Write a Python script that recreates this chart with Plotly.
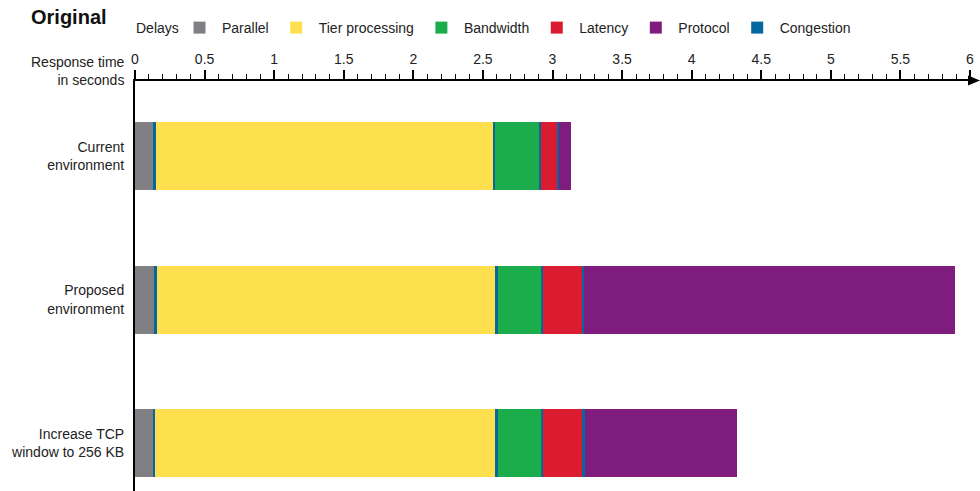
import plotly.graph_objects as go

categories = ["Current<br>environment", "Proposed<br>environment", "Increase TCP<br>window to 256 KB"]

parallel = [0.13, 0.14, 0.13]
congestion_1 = [0.02, 0.015, 0.015]
tier_processing = [2.42, 2.43, 2.44]
congestion_2 = [0.02, 0.02, 0.02]
bandwidth = [0.31, 0.31, 0.31]
congestion_3 = [0.015, 0.015, 0.02]
latency = [0.115, 0.28, 0.28]
congestion_4 = [0.02, 0.015, 0.02]
protocol = [0.08, 2.67, 1.09]

x_ticks = [0, 0.5, 1, 1.5, 2, 2.5, 3, 3.5, 4, 4.5, 5, 5.5, 6]

COL = {
    "Parallel": "#808084",
    "Tier processing": "#FEE04F",
    "Bandwidth": "#1BAC4B",
    "Latency": "#DB1B2F",
    "Protocol": "#7F1D7E",
    "Congestion": "#0567A0",
}

FONT = "Liberation Sans, Arial, sans-serif"

segments = [
    ("Parallel", parallel, 1, True),
    ("Congestion", congestion_1, 6, True),
    ("Tier processing", tier_processing, 2, True),
    ("Congestion", congestion_2, 6, False),
    ("Bandwidth", bandwidth, 3, True),
    ("Congestion", congestion_3, 6, False),
    ("Latency", latency, 4, True),
    ("Congestion", congestion_4, 6, False),
    ("Protocol", protocol, 5, True),
]

fig = go.Figure()
for name, vals, rank, show in segments:
    fig.add_trace(go.Bar(
        y=categories, x=vals, orientation="h", name=name,
        marker=dict(color=COL[name], line=dict(width=0)),
        legendgroup=name, legendrank=rank, showlegend=show,
        hoverinfo="x+name",
    ))

W, H = 980, 491
L, R, T, B = 135, 10, 81, 0
pw, ph = W - L - R, H - T - B

def px(x):
    return (x - L) / pw

def py(y):
    return (H - B - y) / ph

fig.update_layout(
    width=W, height=H,
    margin=dict(l=L, r=R, t=T, b=B),
    barmode="stack",
    bargap=0.526,
    plot_bgcolor="white", paper_bgcolor="white",
    font=dict(family=FONT, size=14, color="#222222"),
    legend=dict(
        orientation="h", x=px(177), xanchor="left", y=py(12), yanchor="top",
        font=dict(size=14), traceorder="normal", itemwidth=35,
        itemclick=False, itemdoubleclick=False,
    ),
    showlegend=True,
)

fig.update_xaxes(
    side="top", range=[0, 6], tickvals=x_ticks,
    ticks="outside", ticklen=9, tickwidth=1.5, tickcolor="black",
    showline=True, linecolor="black", linewidth=2,
    showgrid=False, zeroline=False,
    tickfont=dict(size=14, color="#222222"),
    minor=dict(dtick=0.1, ticks="outside", ticklen=5, tickwidth=1, tickcolor="black", showgrid=False),
)
fig.update_yaxes(
    type="category", range=[2.334, -0.523],
    showline=True, linecolor="black", linewidth=2,
    showgrid=False, zeroline=False, ticks="",
    ticklabelstandoff=6,
    tickfont=dict(size=14, color="#222222"),
)

# title
fig.add_annotation(
    text="<b>Original</b>", xref="paper", yref="paper",
    x=px(29), y=py(17), xanchor="left", yanchor="middle",
    showarrow=False, font=dict(size=20, color="#111111", family=FONT),
)
# legend heading
fig.add_annotation(
    text="Delays", xref="paper", yref="paper",
    x=px(134), y=py(28), xanchor="left", yanchor="middle",
    showarrow=False, font=dict(size=14, color="#222222", family=FONT),
)
# axis title
fig.add_annotation(
    text="Response time<br>in seconds", xref="paper", yref="paper",
    x=px(127), y=py(71), xanchor="right", yanchor="middle", align="right",
    showarrow=False, font=dict(size=14, color="#222222", family=FONT),
)
# arrow head at end of x axis
fig.add_shape(
    type="path", xref="paper", yref="paper",
    path=f"M {px(968)} {py(75.5)} L {px(980)} {py(80.5)} L {px(968)} {py(85.5)} Z",
    fillcolor="black", line=dict(width=0),
)

fig.write_html("out.html")
